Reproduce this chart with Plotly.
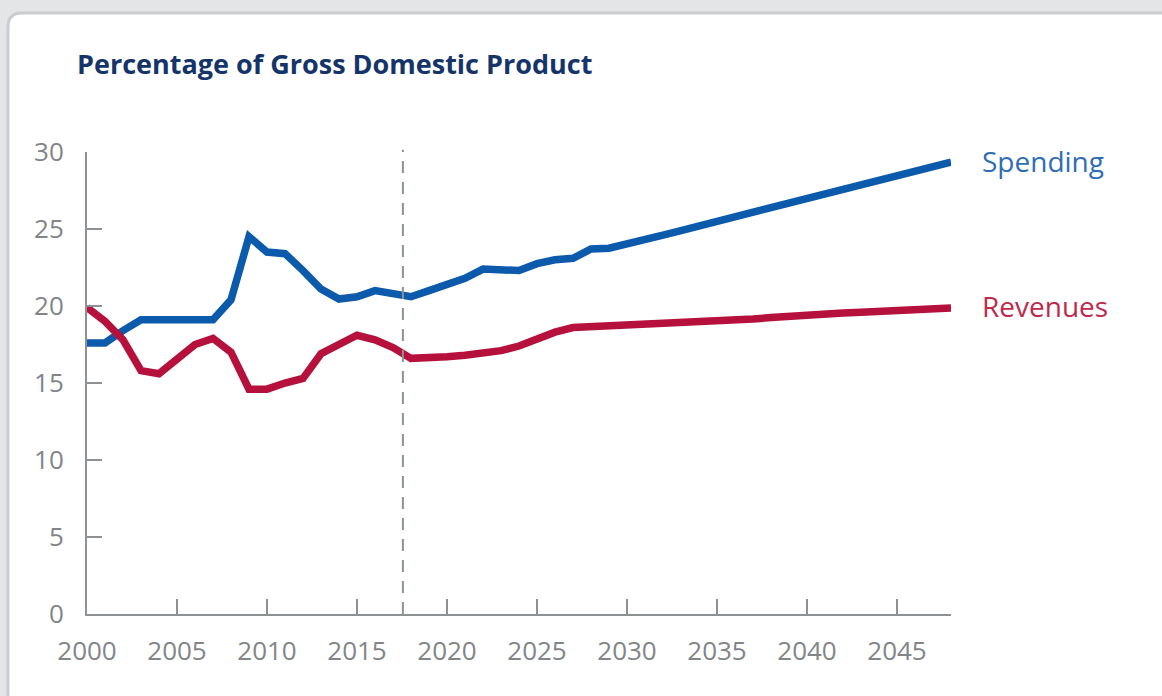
import plotly.graph_objects as go

years = list(range(2000, 2049))
spending = [17.6, 17.6, 18.4, 19.1, 19.1, 19.1, 19.1, 19.1, 20.4, 24.5,
            23.5, 23.4, 22.3, 21.1, 20.45, 20.6, 21.0, 20.75, 20.6, 21.0,
            21.4, 21.8, 22.4, 22.35, 22.3, 22.75, 23.0, 23.1, 23.7, 23.75,
            24.0, 24.3, 24.6, 24.9, 25.2, 25.5, 25.8, 26.1, 26.4, 26.7,
            27.0, 27.3, 27.6, 27.9, 28.2, 28.5, 28.8, 29.1, 29.35]
revenues = [19.9, 19.0, 17.8, 15.8, 15.6, 16.6, 17.5, 17.9, 17.0, 14.6,
            14.6, 15.0, 15.3, 16.9, 17.5, 18.1, 17.8, 17.3, 16.6, 16.6,
            16.7, 16.8, 16.9, 17.1, 17.4, 17.9, 18.3, 18.6, 18.65, 18.65,
            18.7, 18.75, 18.8, 18.85, 18.9, 18.95, 19.05, 19.15, 19.25, 19.35,
            19.4, 19.5, 19.55, 19.6, 19.65, 19.7, 19.75, 19.8, 19.87]
x_ticks = [2000, 2005, 2010, 2015, 2020, 2025, 2030, 2035, 2040, 2045]
y_ticks = [0, 5, 10, 15, 20, 25, 30]
divider_year = 2017.55
title_text = "Percentage of Gross Domestic Product"
series_names = ["Spending", "Revenues"]

W, H = 1162, 696
L, R, T, B = 87, 211, 152, 82
PW, PH = W - L - R, H - T - B
FONT = "'Open Sans', sans-serif"
AXIS = "#8d9194"
TICKTXT = "#818588"
BLUE, RED = "#0b5aab", "#b5113c"
BLUE_T, RED_T = "#2f6db5", "#bf2a4c"


def px(xp):
    return (xp - L) / PW


def py(yp):
    return 1 - (yp - T) / PH


fig = go.Figure()
fig.add_trace(go.Scatter(x=years, y=spending, mode="lines", name=series_names[0],
                         line=dict(color=BLUE, width=7.5)))
fig.add_trace(go.Scatter(x=years, y=revenues, mode="lines", name=series_names[1],
                         line=dict(color=RED, width=7.5)))

# card background
x0, y0, x1, y1, r = 8, 13, W + 20, H + 20, 14
card = (f"M {px(x0+r)},{py(y0)} L {px(x1)},{py(y0)} L {px(x1)},{py(y1)} "
        f"L {px(x0)},{py(y1)} L {px(x0)},{py(y0+r)} "
        f"Q {px(x0)},{py(y0)} {px(x0+r)},{py(y0)} Z")
shapes = [
    dict(type="path", xref="paper", yref="paper", path=card, fillcolor="white",
         line=dict(color="#c9ccd0", width=3), layer="below"),
    dict(type="line", xref="x", yref="paper", x0=divider_year, x1=divider_year,
         y0=0, y1=1.005, line=dict(color="#8e9295", width=2, dash="12px,9px")),
]

annotations = [
    dict(x=years[-1], y=spending[-1], xref="x", yref="y", text=series_names[0],
         showarrow=False, xanchor="left", yanchor="middle", xshift=29, yshift=1,
         font=dict(family=FONT, size=28, color=BLUE_T)),
    dict(x=years[-1], y=revenues[-1], xref="x", yref="y", text=series_names[1],
         showarrow=False, xanchor="left", yanchor="middle", xshift=29, yshift=2,
         font=dict(family=FONT, size=28, color=RED_T)),
]

fig.update_layout(
    width=W, height=H,
    margin=dict(l=L, r=R, t=T, b=B),
    paper_bgcolor="#e3e5e7", plot_bgcolor="rgba(0,0,0,0)",
    showlegend=False,
    title=dict(text=f"<b>{title_text}</b>", x=77 / W, xref="container", xanchor="left",
               y=1 - 65 / H, yref="container", yanchor="middle",
               font=dict(family=FONT, size=27, color="#15356a", weight=800)),
    shapes=shapes, annotations=annotations,
    xaxis=dict(range=[2000, 2048], tickvals=x_ticks, ticks="inside", ticklen=15,
               tickwidth=2, tickcolor=AXIS, showline=True, linecolor=AXIS, linewidth=2,
               showgrid=False, zeroline=False, ticklabelstandoff=13,
               tickfont=dict(family=FONT, size=26, color=TICKTXT)),
    yaxis=dict(range=[0, 30], tickvals=y_ticks, ticks="inside", ticklen=15,
               tickwidth=2, tickcolor=AXIS, showline=True, linecolor=AXIS, linewidth=2,
               showgrid=False, zeroline=False, ticklabelstandoff=16,
               tickfont=dict(family=FONT, size=26, color=TICKTXT)),
)

fig.write_html("out.html")
